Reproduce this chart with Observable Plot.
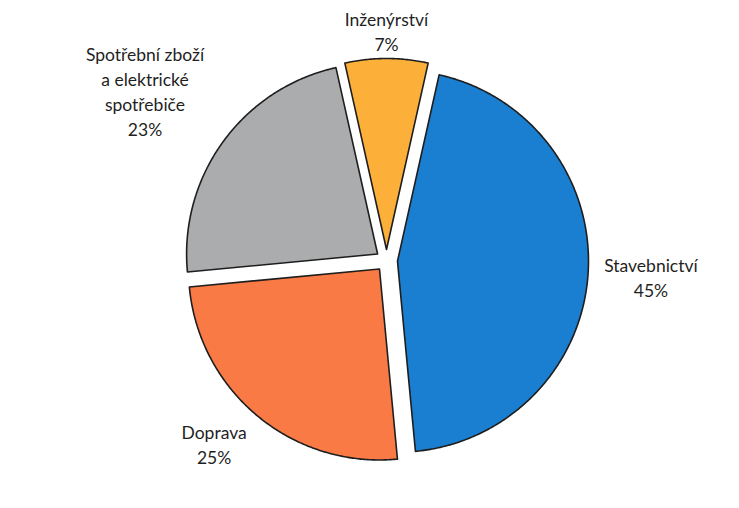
<!DOCTYPE html>
<html>
<head>
<meta charset="utf-8">
<script src="https://cdn.jsdelivr.net/npm/d3@7"></script>
<script src="https://cdn.jsdelivr.net/npm/@observablehq/plot@0.6"></script>
<style>
  html, body { margin: 0; padding: 0; background: #fff; }
  #chart { width: 739px; height: 508px; }
</style>
</head>
<body>
<div id="chart"></div>
<script>
// ---- data ----
const categories = ["Stavebnictví", "Doprava", "Spotřební zboží a elektrické spotřebiče", "Inženýrství"];
const values = [45, 25, 23, 7];
const labelLines = [["Stavebnictví"], ["Doprava"], ["Spotřební zboží", "a elektrické", "spotřebiče"], ["Inženýrství"]];
const colors = ["#1a7fd0", "#fa7a45", "#aaacad", "#fcb03a"];

// ---- layout ----
const W = 739, H = 508;
const cx = 386, cy = 260;      // pie centre (px)
const Rpx = 191;               // radius (px)
const explodePx = 11;          // slice explosion (px)
const fontSize = 17.5, linePx = 25;
const fontFamily = "Lato, 'Noto Sans', sans-serif";

const ctx = document.createElement("canvas").getContext("2d");
ctx.font = fontSize + "px " + fontFamily;

const total = d3.sum(values);
const deg = Math.PI / 180;
// first slice rotated so the last slice is centred at the top
const startDeg = values[values.length - 1] / total * 360 / 2;

const polys = [];
const labels = [];
let acc = startDeg;
values.forEach((v, i) => {
  const a0 = acc, a1 = acc + v / total * 360;
  acc = a1;
  const mid = (a0 + a1) / 2;
  const sx = Math.sin(mid * deg), sy = Math.cos(mid * deg); // y up
  const ox = sx * explodePx / Rpx, oy = sy * explodePx / Rpx;
  const pts = [[ox, oy]];
  const n = Math.ceil((a1 - a0) / 0.5);
  for (let k = 0; k <= n; k++) {
    const a = (a0 + (a1 - a0) * k / n) * deg;
    pts.push([ox + Math.sin(a), oy + Math.cos(a)]);
  }
  pts.push([ox, oy]);
  pts.forEach(([x, y]) => polys.push({cat: categories[i], x, y}));

  // label placed outside the slice along its bisector
  const lines = labelLines[i].concat([Math.round(v / total * 100) + "%"]);
  const hw = d3.max(lines, l => ctx.measureText(l).width) / 2;
  const hh = lines.length * linePx / 2;
  const Rl = Rpx + explodePx + 3;
  const clamp = t => Math.max(-1, Math.min(1, t));
  const px = Rl * sx + 1.28 * hw * clamp(2 * sx);
  const py = Rl * sy + 1.0 * hh * clamp(2 * sy);
  labels.push({text: lines.join("\n"), x: px / Rpx, y: py / Rpx});
});

const chart = Plot.plot({
  width: W,
  height: H,
  margin: 0,
  x: {domain: [-cx / Rpx, (W - cx) / Rpx], axis: null},
  y: {domain: [(cy - H) / Rpx, cy / Rpx], axis: null},
  color: {domain: categories, range: colors},
  style: {fontFamily: fontFamily, background: "#fff"},
  marks: [
    Plot.line(polys, {
      x: "x", y: "y", z: "cat", fill: "cat",
      stroke: "#1e1e1e", strokeWidth: 1.6, strokeLinejoin: "round"
    }),
    Plot.text(labels, {
      x: "x", y: "y", text: "text",
      fontSize: fontSize, lineHeight: linePx / fontSize,
      fill: "#1f1f1f", textAnchor: "middle"
    })
  ]
});
document.getElementById("chart").appendChild(chart);
</script>
</body>
</html>
